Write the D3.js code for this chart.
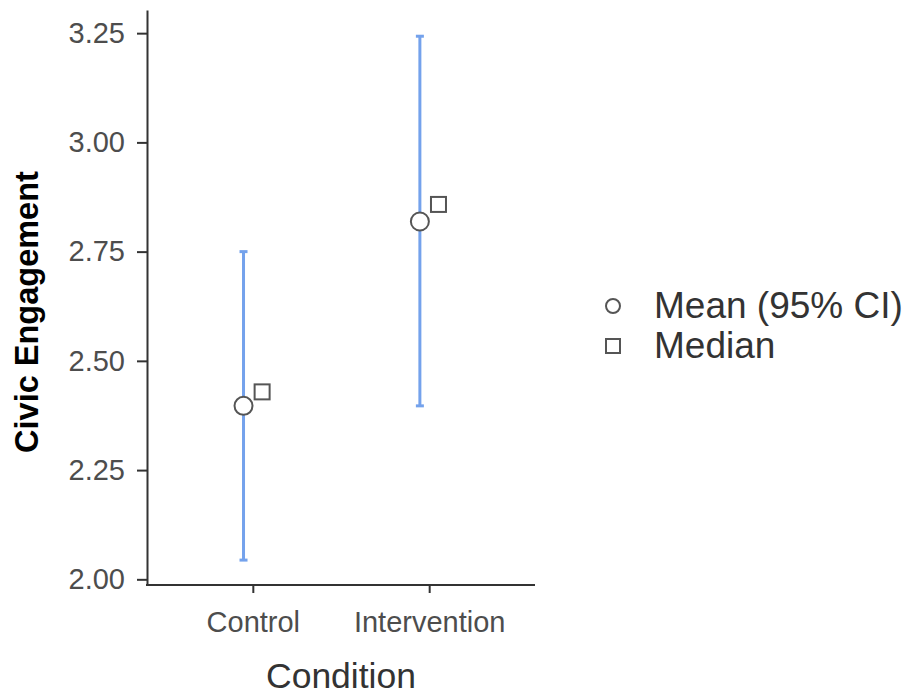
<!DOCTYPE html>
<html>
<head>
<meta charset="utf-8">
<script src="https://cdn.jsdelivr.net/npm/d3@7"></script>
<style>
  body { margin: 0; background: #fff; }
  text { font-family: "Liberation Sans", Arial, sans-serif; }
</style>
</head>
<body>
<div class="chart"></div>
<script>
// data
const conditions = ["Control", "Intervention"];
const means = [2.397, 2.819];
const ciLow = [2.044, 2.397];
const ciHigh = [2.750, 3.243];
const medians = [2.429, 2.858];
const yTicks = [2.00, 2.25, 2.50, 2.75, 3.00, 3.25];
const legendLabels = ["Mean (95% CI)", "Median"];

const width = 914, height = 696;
const margin = ({ top: 10, right: 379, bottom: 111, left: 147 });

const svg = d3.select(".chart")
    .append("svg")
    .attr("width", width)
    .attr("height", height);

// scales
const xScale = d3.scalePoint()
    .domain(conditions)
    .range([margin.left, width - margin.right])
    .padding(0.6);

const yScale = d3.scaleLinear()
    .domain([1.987, 3.303])
    .range([height - margin.bottom, margin.top]);

const dodge = 9.3;
const ciColor = "#74a2ec";
const ptStroke = "#555";

// y axis
const yAxis = svg.append("g")
    .attr("transform", "translate(" + margin.left + ",0)")
    .call(d3.axisLeft(yScale).tickValues(yTicks).tickFormat(d3.format(".2f")).tickSize(10).tickPadding(12).tickSizeOuter(0));
yAxis.select(".domain").attr("stroke", "#333").attr("stroke-width", 2);
yAxis.selectAll(".tick line").attr("stroke", "#333").attr("stroke-width", 2);
yAxis.selectAll(".tick text").attr("fill", "#4d4d4d").attr("font-size", 29)
    .attr("font-family", "Liberation Sans, Arial, sans-serif");

// x axis
const xAxis = svg.append("g")
    .attr("transform", "translate(0," + (height - margin.bottom) + ")")
    .call(d3.axisBottom(xScale).tickSize(8).tickPadding(18).tickSizeOuter(0));
xAxis.select(".domain").attr("stroke", "#333").attr("stroke-width", 2)
    .attr("d", "M" + (margin.left - 1) + ",0H" + (width - margin.right));
xAxis.selectAll(".tick line").attr("stroke", "#333").attr("stroke-width", 2);
xAxis.selectAll(".tick text").attr("fill", "#4d4d4d").attr("font-size", 29)
    .attr("font-family", "Liberation Sans, Arial, sans-serif");

// axis titles
svg.append("text")
    .attr("x", (margin.left + width - margin.right) / 2)
    .attr("y", 688)
    .attr("text-anchor", "middle")
    .attr("font-size", 35.5)
    .attr("fill", "#333")
    .text("Condition");

svg.append("text")
    .attr("transform", "translate(38," + 312 + ") rotate(-90)")
    .attr("text-anchor", "middle")
    .attr("font-size", 32.5)
    .attr("font-weight", "bold")
    .attr("fill", "#000")
    .text("Civic Engagement");

// CI lines
const idx = d3.range(conditions.length);
svg.selectAll("line.ci")
    .data(idx)
    .join("line")
    .attr("class", "ci")
    .attr("x1", i => xScale(conditions[i]) - dodge)
    .attr("x2", i => xScale(conditions[i]) - dodge)
    .attr("y1", i => yScale(ciLow[i]))
    .attr("y2", i => yScale(ciHigh[i]))
    .attr("stroke", ciColor)
    .attr("stroke-width", 3);

// caps
["low", "high"].forEach(k => {
    svg.selectAll("line.cap-" + k)
        .data(idx)
        .join("line")
        .attr("class", "cap-" + k)
        .attr("x1", i => xScale(conditions[i]) - dodge - 4)
        .attr("x2", i => xScale(conditions[i]) - dodge + 4)
        .attr("y1", i => yScale(k == "low" ? ciLow[i] : ciHigh[i]))
        .attr("y2", i => yScale(k == "low" ? ciLow[i] : ciHigh[i]))
        .attr("stroke", ciColor)
        .attr("stroke-width", 3);
});

// medians
svg.selectAll("rect.median")
    .data(idx)
    .join("rect")
    .attr("class", "median")
    .attr("x", i => xScale(conditions[i]) + dodge - 7.5)
    .attr("y", i => yScale(medians[i]) - 7.5)
    .attr("width", 15)
    .attr("height", 15)
    .attr("fill", "#fff")
    .attr("stroke", ptStroke)
    .attr("stroke-width", 2);

// means
svg.selectAll("circle.mean")
    .data(idx)
    .join("circle")
    .attr("class", "mean")
    .attr("cx", i => xScale(conditions[i]) - dodge)
    .attr("cy", i => yScale(means[i]))
    .attr("r", 9)
    .attr("fill", "#fff")
    .attr("stroke", ptStroke)
    .attr("stroke-width", 2);

// legend
const legend = svg.append("g").attr("transform", "translate(613,306)");
legend.append("circle")
    .attr("cx", 0).attr("cy", 0).attr("r", 7)
    .attr("fill", "#fff").attr("stroke", ptStroke).attr("stroke-width", 2);
legend.append("rect")
    .attr("x", -7).attr("y", 40 - 7).attr("width", 14).attr("height", 14)
    .attr("fill", "#fff").attr("stroke", ptStroke).attr("stroke-width", 2);
legend.selectAll("text")
    .data(legendLabels)
    .join("text")
    .attr("x", 41)
    .attr("y", (d, i) => i * 40 + 12)
    .attr("font-size", 37)
    .attr("fill", "#333")
    .text(d => d);
</script>
</body>
</html>
